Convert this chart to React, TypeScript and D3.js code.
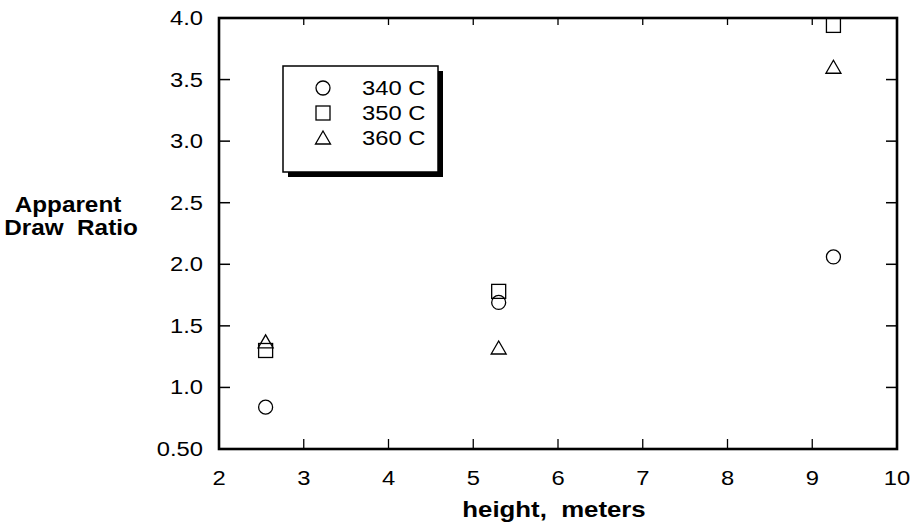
import * as d3 from "d3"

// heights (m) and apparent draw ratio per temperature
const heights = [2.55, 5.3, 9.25]
const ratio340 = [0.84, 1.69, 2.06]
const ratio350 = [1.3, 1.78, 3.94]
const ratio360 = [1.37, 1.32, 3.6]

const xTicks = [2, 3, 4, 5, 6, 7, 8, 9, 10]
const yTicks = [0.5, 1.0, 1.5, 2.0, 2.5, 3.0, 3.5, 4.0]
const yTickLabels = ["0.50", "1.0", "1.5", "2.0", "2.5", "3.0", "3.5", "4.0"]

const legendLabels = ["340 C", "350 C", "360 C"]

const width = 919
const height = 528
const margin = { top: 18, right: 22, bottom: 79, left: 219 }
const font = "'Liberation Sans', Arial, Helvetica, sans-serif"

// the original type is a wide Helvetica, so stretch text horizontally
function T({
  x,
  y,
  anchor = "start",
  bold = false,
  size = 19.5,
  sx = 1.22,
  dy,
  children,
}: {
  x: number
  y: number
  anchor?: string
  bold?: boolean
  size?: number
  sx?: number
  dy?: string
  children: any
}) {
  return (
    <g transform={`translate(${x},${y}) scale(${sx},1)`}>
      <text
        x={0}
        y={0}
        dy={dy}
        textAnchor={anchor}
        fontSize={size}
        fontWeight={bold ? "bold" : "normal"}
        xmlSpace="preserve"
        style={{ whiteSpace: "pre" }}
      >
        {children}
      </text>
    </g>
  )
}

function Marker({ kind, x, y }: { kind: number; x: number; y: number }) {
  const s = 7
  if (kind === 0) return <circle cx={x} cy={y} r={s} fill="none" stroke="#000" strokeWidth={1.3} />
  if (kind === 1)
    return <rect x={x - s} y={y - s} width={2 * s} height={2 * s} fill="none" stroke="#000" strokeWidth={1.3} />
  const h = 12
  return (
    <path
      d={`M${x},${y - h / 2 - 1}L${x + s + 0.5},${y + h / 2}L${x - s - 0.5},${y + h / 2}Z`}
      fill="none"
      stroke="#000"
      strokeWidth={1.3}
    />
  )
}

export default function App() {
  const innerW = width - margin.left - margin.right
  const innerH = height - margin.top - margin.bottom

  const x = d3.scaleLinear().domain([2, 10]).range([0, innerW])
  const y = d3.scaleLinear().domain([0.5, 4.0]).range([innerH, 0])

  const series = [ratio340, ratio350, ratio360]

  return (
    <div style={{ position: "fixed", left: 0, top: 0 }}>
      <svg width={width} height={height} style={{ display: "block", background: "#fff" }}>
        <g transform={`translate(${margin.left},${margin.top})`} fontFamily={font}>
          {/* ticks */}
          {yTicks.map((t, i) => (
            <g key={"y" + i}>
              <line x1={0} x2={11} y1={y(t)} y2={y(t)} stroke="#000" strokeWidth={1.5} />
              <line x1={innerW - 11} x2={innerW} y1={y(t)} y2={y(t)} stroke="#000" strokeWidth={1.5} />
              <T x={-16} y={y(t)} dy="0.36em" anchor="end">
                {yTickLabels[i]}
              </T>
            </g>
          ))}
          {xTicks.map((t) => (
            <g key={"x" + t}>
              <line x1={x(t)} x2={x(t)} y1={innerH} y2={innerH - 10} stroke="#000" strokeWidth={1.3} />
              <line x1={x(t)} x2={x(t)} y1={0} y2={7} stroke="#000" strokeWidth={1.3} />
              <T x={x(t)} y={innerH + 36} anchor="middle">
                {t}
              </T>
            </g>
          ))}

          {/* frame */}
          <rect x={0} y={0} width={innerW} height={innerH} fill="none" stroke="#000" strokeWidth={2.6} />

          {/* data */}
          {series.map((vals, k) =>
            vals.map((v, i) => <Marker key={k + "-" + i} kind={k} x={x(heights[i])} y={y(v)} />),
          )}

          {/* legend */}
          <g transform="translate(64,48)">
            <rect x={5} y={5} width={155} height={106} fill="#000" />
            <rect x={0} y={0} width={155} height={106} fill="#fff" stroke="#000" strokeWidth={1.5} />
            {legendLabels.map((l, i) => (
              <g key={l}>
                <Marker kind={i} x={40} y={22 + i * 25} />
                <T x={79} y={22 + i * 25} dy="0.36em">
                  {l}
                </T>
              </g>
            ))}
          </g>

          {/* axis titles */}
          <T x={innerW / 2 - 4} y={innerH + 68} anchor="middle" bold size={21.5} sx={1.2}>
            {"height,  meters"}
          </T>
          <T x={-151} y={194} anchor="middle" bold size={21.5} sx={1.13}>
            Apparent
          </T>
          <T x={-148} y={217} anchor="middle" bold size={21.5} sx={1.13}>
            {"Draw  Ratio"}
          </T>
        </g>
      </svg>
    </div>
  )
}
